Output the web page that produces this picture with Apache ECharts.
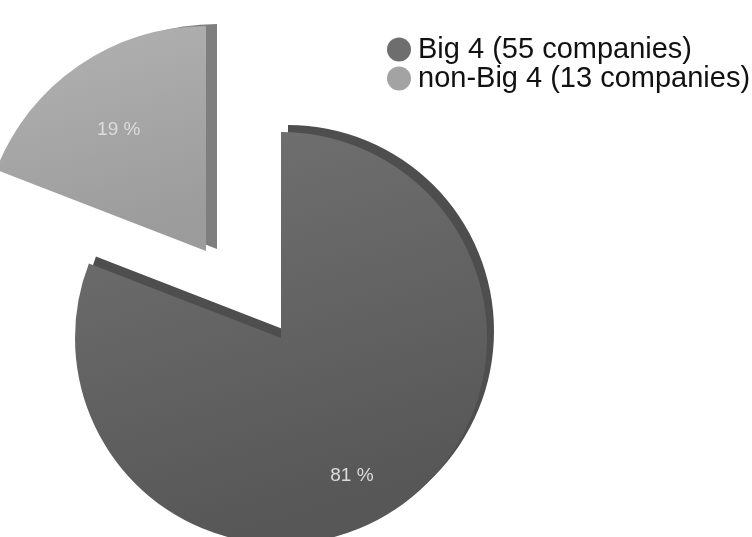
<!DOCTYPE html>
<html>
<head>
<meta charset="utf-8">
<script src="https://cdn.jsdelivr.net/npm/echarts@6/dist/echarts.min.js"></script>
<style>
html,body{margin:0;padding:0;background:#fff;}
#main{width:752px;height:537px;}
</style>
</head>
<body>
<div id="main"></div>
<script>
const categories = ['Big 4 (55 companies)', 'non-Big 4 (13 companies)'];
const values = [55, 13];
const legendColors = ['#6e6e6e', '#a3a3a3'];

const faceGradients = [
  new echarts.graphic.LinearGradient(0, 0, 0.3, 1, [
    { offset: 0, color: '#727272' },
    { offset: 1, color: '#575757' }
  ]),
  new echarts.graphic.LinearGradient(0, 0, 0.3, 1, [
    { offset: 0, color: '#b2b2b2' },
    { offset: 1, color: '#9c9c9c' }
  ])
];
const sideColors = ['#4e4e4e', '#7e7e7e'];
const sideOffsets = [[7, -7], [11, -2]];
const labelShift = [[11, 50], [-22, -26]];

function buildData(visibleIndex) {
  return categories.map(function (name, i) {
    const visible = i === visibleIndex;
    return {
      name: name,
      value: values[i],
      itemStyle: visible ? {
        color: faceGradients[i],
        shadowColor: sideColors[i],
        shadowBlur: 0,
        shadowOffsetX: sideOffsets[i][0],
        shadowOffsetY: sideOffsets[i][1]
      } : { color: 'rgba(0,0,0,0)' },
      label: { show: visible }
    };
  });
}

function makeSeries(visibleIndex, center, radius) {
  return {
    type: 'pie',
    center: center,
    radius: radius,
    startAngle: 90,
    clockwise: true,
    avoidLabelOverlap: false,
    silent: true,
    animation: false,
    label: {
      show: true,
      position: 'inside',
      formatter: function (p) { return Math.round(p.percent) + ' %'; },
      color: '#dcdcdc',
      fontSize: 19,
      fontFamily: 'Liberation Sans, Arial, sans-serif'
    },
    labelLine: { show: false },
    labelLayout: function (params) {
      const s = labelShift[params.dataIndex];
      return { dx: s[0], dy: s[1] };
    },
    emphasis: { disabled: true },
    data: buildData(visibleIndex)
  };
}

const chart = echarts.init(document.getElementById('main'), null, { renderer: 'canvas' });
chart.setOption({
  backgroundColor: '#ffffff',
  animation: false,
  legend: {
    orient: 'vertical',
    left: 382,
    top: 30,
    icon: 'circle',
    itemWidth: 24,
    itemHeight: 24,
    itemGap: 0,
    selectedMode: false,
    textStyle: {
      fontSize: 29,
      lineHeight: 26,
      color: '#111111',
      fontFamily: 'Liberation Sans, Arial, sans-serif',
      padding: [0, 0, 0, 2]
    },
    data: categories.map(function (name, i) {
      return { name: name, itemStyle: { color: legendColors[i] } };
    })
  },
  series: [
    makeSeries(0, [281, 338], 206),
    makeSeries(1, [206, 251], 225)
  ]
});
</script>
</body>
</html>
